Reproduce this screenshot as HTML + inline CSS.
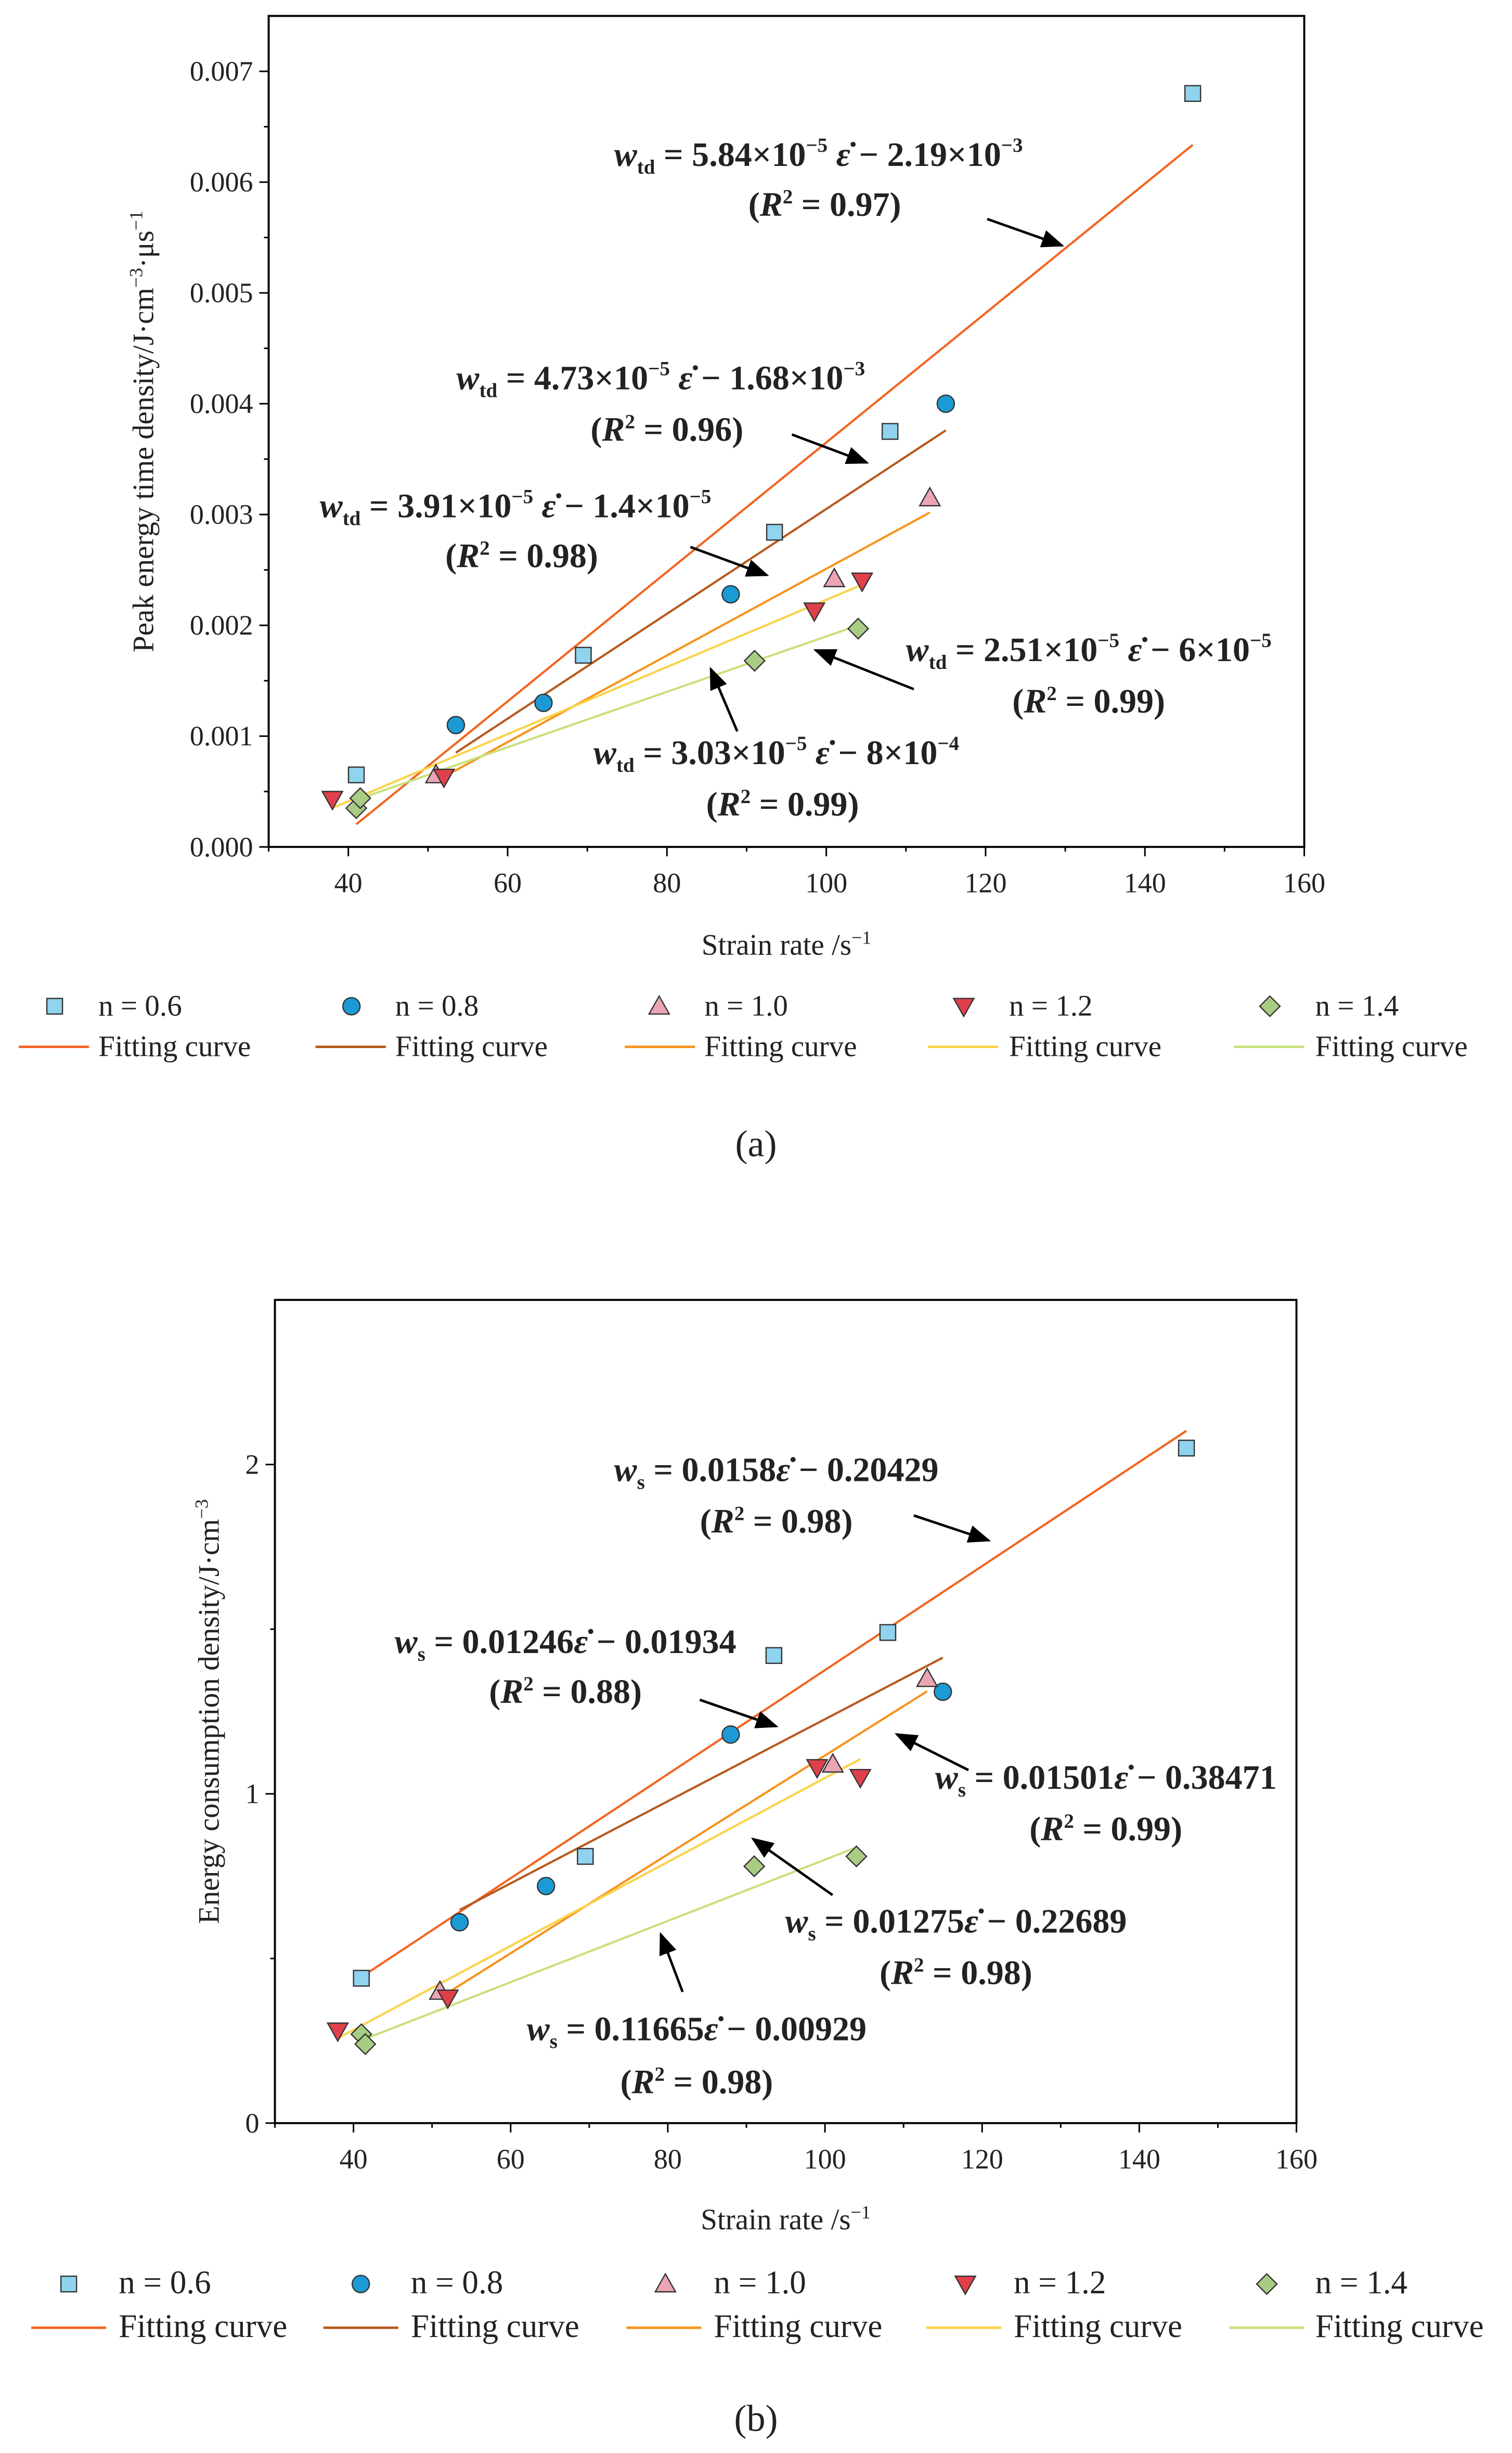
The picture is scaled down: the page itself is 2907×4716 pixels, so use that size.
<!DOCTYPE html>
<html><head><meta charset="utf-8"><style>
html,body{margin:0;padding:0;background:#fff}
svg{display:block}
text{font-family:"Liberation Serif",serif;fill:#222}
.eq{font-weight:bold}
</style></head><body>
<svg id="fig" width="2907" height="4716" viewBox="0 0 968 1570" xmlns="http://www.w3.org/2000/svg"></svg>
<script>
// ---- Chart (a) data ----
const aX06=[41,69.5,93.5,108,146], aY06=[0.00065,0.00173,0.00284,0.00375,0.0068];
const aX08=[53.5,64.5,88,115], aY08=[0.0011,0.0013,0.00228,0.0040];
const aX10=[51,101,113], aY10=[0.00065,0.00242,0.00315];
const aX12=[38,52,98.5,104.5], aY12=[0.00043,0.00063,0.00213,0.0024];
const aX14=[41,41.5,91,104], aY14=[0.00035,0.00044,0.00168,0.00197];
const aSlope=[5.84e-5,4.73e-5,3.91e-5,3.03e-5,2.5e-5];
const aIntercept=[-2.19e-3,-1.68e-3,-1.4e-3,-8e-4,-6e-4];
const aRange=[[41,146],[53.5,115],[51,113],[38,104.5],[41,104]];
const aYTicks=[0,0.001,0.002,0.003,0.004,0.005,0.006,0.007];
const aYLabels=["0.000","0.001","0.002","0.003","0.004","0.005","0.006","0.007"];
const xTicks=[40,60,80,100,120,140,160];
// ---- Chart (b) data ----
const bX06=[41,69.5,93.5,108,146], bY06=[0.44,0.81,1.42,1.49,2.05];
const bX08=[53.5,64.5,88,115], bY08=[0.61,0.72,1.18,1.31];
const bX10=[51,101,113], bY10=[0.40,1.09,1.35];
const bX12=[38,52,99,104.5], bY12=[0.28,0.38,1.08,1.05];
const bX14=[41,41.5,91,104], bY14=[0.27,0.24,0.78,0.81];
const bSlope=[0.0158,0.01246,0.01501,0.01275,0.0093];
const bIntercept=[-0.20429,-0.01934,-0.38471,-0.22689,-0.13];
const bRange=[[41,146],[53.5,115],[51,113],[38,104.5],[41,104]];
const bYTicks=[0,1,2];
const bYLabels=["0","1","2"];
const seriesNames=["n = 0.6","n = 0.8","n = 1.0","n = 1.2","n = 1.4"];
const lineColors=["#f26522","#b85a1f","#f7941d","#f9d34a","#c8e07c"];
const mFill=["#8fd3ee","#1c9ad6","#eba5b5","#e0404a","#a9cc85"];
const mShape=["sq","ci","up","dn","di"];

const NS="http://www.w3.org/2000/svg", svg=document.getElementById('fig');
function E(tag,attrs,parent){const e=document.createElementNS(NS,tag);for(const k in attrs)e.setAttribute(k,attrs[k]);(parent||svg).appendChild(e);return e;}
function T(x,y,s,size,anchor,parent,cls){const t=E('text',{x:x,y:y,'font-size':size,'text-anchor':anchor||'start'},parent);if(cls)t.setAttribute('class',cls);t.innerHTML=s;return t;}
E('defs',{}).innerHTML='<marker id="ah" viewBox="0 0 10 10" refX="9" refY="5" markerWidth="9" markerHeight="9" orient="auto"><path d="M0,1 L10,5 L0,9 z" fill="#000"/></marker>';

function marker(g,shape,x,y,fill){
  let m;const st={fill:fill,stroke:'#333','stroke-width':0.8};
  if(shape=='sq')m=E('rect',Object.assign({x:x-5,y:y-5,width:10,height:10},st),g);
  else if(shape=='ci')m=E('circle',Object.assign({cx:x,cy:y,r:5.5},st),g);
  else if(shape=='up')m=E('polygon',Object.assign({points:`${x},${y-6.5} ${x+6.5},${y+5} ${x-6.5},${y+5}`},st),g);
  else if(shape=='dn')m=E('polygon',Object.assign({points:`${x},${y+6.5} ${x+6.5},${y-5} ${x-6.5},${y-5}`},st),g);
  else m=E('polygon',Object.assign({points:`${x},${y-6.5} ${x+6.5},${y} ${x},${y+6.5} ${x-6.5},${y}`},st),g);
  return m;
}

function chart(cfg){
  const g=E('g',{});
  
  
  const sx=v=>cfg.x0+(v-30)*(cfg.x1-cfg.x0)/130;
  const sy=v=>cfg.yb-(v-cfg.ymin)*(cfg.yb-cfg.yt)/(cfg.ymax-cfg.ymin);
  const box=E('rect',{x:cfg.x0,y:cfg.yt,width:cfg.x1-cfg.x0,height:cfg.yb-cfg.yt,fill:'none',stroke:'#000','stroke-width':1.3},g);
  
  for(let v=30;v<=160;v+=10){const X=sx(v);const major=(v%20==0);E('line',{x1:X,y1:cfg.yb,x2:X,y2:cfg.yb+(major?6:3),stroke:'#000'},g);}
  xTicks.forEach(v=>{const t=T(sx(v),cfg.yb+29,v,cfg.fs,'middle',g);});
  const yt=cfg.yticks;
  for(let i=0;i<yt.length;i++){const Y=sy(yt[i]);E('line',{x1:cfg.x0,y1:Y,x2:cfg.x0-6,y2:Y,stroke:'#000'},g);
    if(i<yt.length-1){const m=sy((yt[i]+yt[i+1])/2);E('line',{x1:cfg.x0,y1:m,x2:cfg.x0-3,y2:m,stroke:'#000'},g);}
    const t=T(cfg.x0-10,Y+6,cfg.ylabels[i],cfg.fs,'end',g);}
  const xl=T((cfg.x0+cfg.x1)/2,cfg.xlY,'Strain rate /s<tspan dy="-7" font-size="12">−1</tspan>',19,'middle',g);
  
  const yl=T(0,0,cfg.ytitle,19,'middle',g);yl.setAttribute('transform',`translate(${cfg.ylX},${(cfg.yt+cfg.yb)/2}) rotate(-90)`);
  
  for(let i=0;i<5;i++){const [a,b]=cfg.range[i];
    const l=E('line',{x1:sx(a),y1:sy(cfg.slope[i]*a+cfg.icpt[i]),x2:sx(b),y2:sy(cfg.slope[i]*b+cfg.icpt[i]),stroke:lineColors[i],'stroke-width':1.4},g);
    }
  for(let i=0;i<5;i++){const xs=cfg.xs[i],ys=cfg.ys[i];
    for(let j=0;j<xs.length;j++){const m=marker(g,mShape[i],sx(xs[j]),sy(ys[j]),mFill[i]);
      }}
  cfg.ann.forEach(a=>{const t=T(a[0],a[1],a[2],cfg.efs,'middle',g,'eq');
    const r=T(a[3],a[4],a[5],cfg.efs,'middle',g,'eq');
    const ar=E('line',{x1:a[6],y1:a[7],x2:a[8],y2:a[9],stroke:'#000','stroke-width':1.6,'marker-end':'url(#ah)'},g);
    });
  const lg=E('g',{},g);
  for(let i=0;i<5;i++){const L=cfg.leg;
    const m=marker(lg,mShape[i],L.mx[i],L.r1,mFill[i]);
    const t1=T(L.tx[i],L.r1+6,seriesNames[i],L.fs,'start',lg);
    const ln=E('line',{x1:L.lx[i],y1:L.r2,x2:L.lx[i]+L.lw,y2:L.r2,stroke:lineColors[i],'stroke-width':1.6},lg);
    const t2=T(L.tx[i],L.r2+6,'Fitting curve',L.fs,'start',lg);}
  const c=T(cfg.capX,cfg.capY,cfg.cap,24,'middle',g);
}
const W=(sub)=>`<tspan font-style="italic">w</tspan><tspan font-size="13" dy="5">${sub}</tspan><tspan dy="-5"> = </tspan>`;
const E10=(m,e)=>`${m}×10<tspan font-size="13" dy="-9">−${e}</tspan><tspan dy="9"> </tspan>`;
const EPS='<tspan font-style="italic">ε̇</tspan> ';
const R2=(v)=>`(<tspan font-style="italic">R</tspan><tspan font-size="13" dy="-8">2</tspan><tspan dy="8"> = ${v})</tspan>`;

chart({name:'chart-a-peak-energy-time-density',x0:172,x1:835,yt:10,yb:542,ymin:0,ymax:0.0075,fs:18,efs:22,
 yticks:aYTicks,ylabels:aYLabels,ytitle:'Peak energy time density/J·cm<tspan dy="-7" font-size="12">−3</tspan><tspan dy="7">·μs</tspan><tspan dy="-7" font-size="12">−1</tspan>',ylX:98,xlY:611,
 slope:aSlope,icpt:aIntercept,range:aRange,xs:[aX06,aX08,aX10,aX12,aX14],ys:[aY06,aY08,aY10,aY12,aY14],
 ann:[[524,106,W('td')+E10('5.84',5)+EPS+'− '+E10('2.19',3),528,138,R2('0.97'),632,140,680,157],
      [423,249,W('td')+E10('4.73',5)+EPS+'− '+E10('1.68',3),427,282,R2('0.96'),507,278,555,296],
      [330,331,W('td')+E10('3.91',5)+EPS+'− '+E10('1.4',5),334,363,R2('0.98'),442,350,491,368],
      [697,423,W('td')+E10('2.51',5)+EPS+'− 6×10<tspan font-size="13" dy="-9">−5</tspan>',697,456,R2('0.99'),585,441,522,416],
      [497,489,W('td')+E10('3.03',5)+EPS+'− 8×10<tspan font-size="13" dy="-9">−4</tspan>',501,522,R2('0.99'),472,468,455,428]],
 leg:{r1:644,r2:670,fs:19,lw:45,mx:[35,225,422,617,813],tx:[63,253,451,646,842],lx:[12,202,400,594,790]},
 capX:484,capY:740,cap:'(a)'});

chart({name:'chart-b-energy-consumption-density',x0:176,x1:830,yt:832,yb:1359,ymin:0,ymax:2.5,fs:18,efs:22,
 yticks:bYTicks,ylabels:bYLabels,ytitle:'Energy consumption density/J·cm<tspan dy="-7" font-size="12">−3</tspan>',ylX:140,xlY:1427,
 slope:bSlope,icpt:bIntercept,range:bRange,xs:[bX06,bX08,bX10,bX12,bX14],ys:[bY06,bY08,bY10,bY12,bY14],
 ann:[[497,948,W('s')+'0.0158'+EPS+'− 0.20429',497,981,R2('0.98'),585,970,633,986],
      [362,1058,W('s')+'0.01246'+EPS+'− 0.01934',362,1090,R2('0.88'),448,1088,497,1105],
      [708,1145,W('s')+'0.01501'+EPS+'− 0.38471',708,1178,R2('0.99'),620,1133,574,1110],
      [612,1237,W('s')+'0.01275'+EPS+'− 0.22689',612,1270,R2('0.98'),533,1213,482,1177],
      [446,1306,W('s')+'0.11665'+EPS+'− 0.00929',446,1340,R2('0.98'),437,1275,423,1238]],
 leg:{r1:1462,r2:1490,fs:21,lw:48,mx:[44,231,426,618,811],tx:[76,263,457,649,842],lx:[20,207,401,593,787]},
 capX:484,capY:1556,cap:'(b)'});
</script>
</body></html>
